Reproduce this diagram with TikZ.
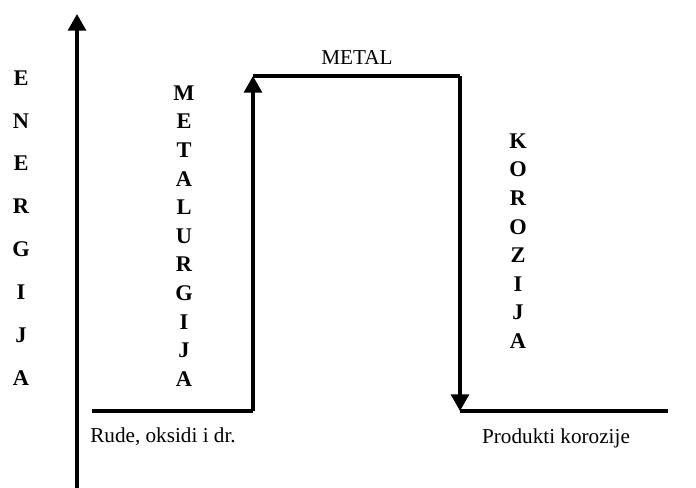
\documentclass[tikz,border=0pt]{standalone}
\usepackage{fontspec}
\setmainfont{Liberation Serif}
\usetikzlibrary{arrows.meta}
\tikzset{
  px/.style={x=0.75pt,y=-0.75pt},
  ln/.style={line width=2.3pt, line join=miter},
  arr/.style={ln, -{Triangle[width=13.5pt,length=12.5pt]}},
  vword/.style={align=center, inner sep=0pt, font=\bfseries\fontsize{16.8}{#1}\selectfont},
  lbl/.style={inner sep=0pt, font=\fontsize{15.9}{18}\selectfont}
}
\begin{document}
\begin{tikzpicture}[px]
\useasboundingbox (0,0) rectangle (696,488);
% axis
\coordinate (ax0) at (77,488);
\coordinate (ax1) at (77,14);
\draw[arr] (ax0) -- (ax1);
% path corners
\coordinate (bl) at (92,411);
\coordinate (b1) at (253,411);
\coordinate (t1) at (253,76);
\coordinate (t2) at (460,76);
\coordinate (b2) at (460,411);
\coordinate (br) at (668,411);
\draw[ln] (bl) -- (b1);
\draw[arr] (b1) -- (t1);
\draw[ln] (t1) -- (t2);
\draw[arr] (t2) -- (b2);
\draw[ln] (b2) -- (br);
% labels
\node[vword=32.2pt] (energ) at (21,228) {E\\N\\E\\R\\G\\I\\J\\A};
\node[vword=21.45pt] (metal) at (184,236) {M\\E\\T\\A\\L\\U\\R\\G\\I\\J\\A};
\node[vword=21.45pt] (koroz) at (518,241) {K\\O\\R\\O\\Z\\I\\J\\A};
\node[lbl] (metl) at (357,58) {METAL};
\node[lbl, anchor=west] (rude) at (90,437) {Rude, oksidi i dr.};
\node[lbl] (prod) at (556,438) {Produkti korozije};
\end{tikzpicture}
\end{document}
